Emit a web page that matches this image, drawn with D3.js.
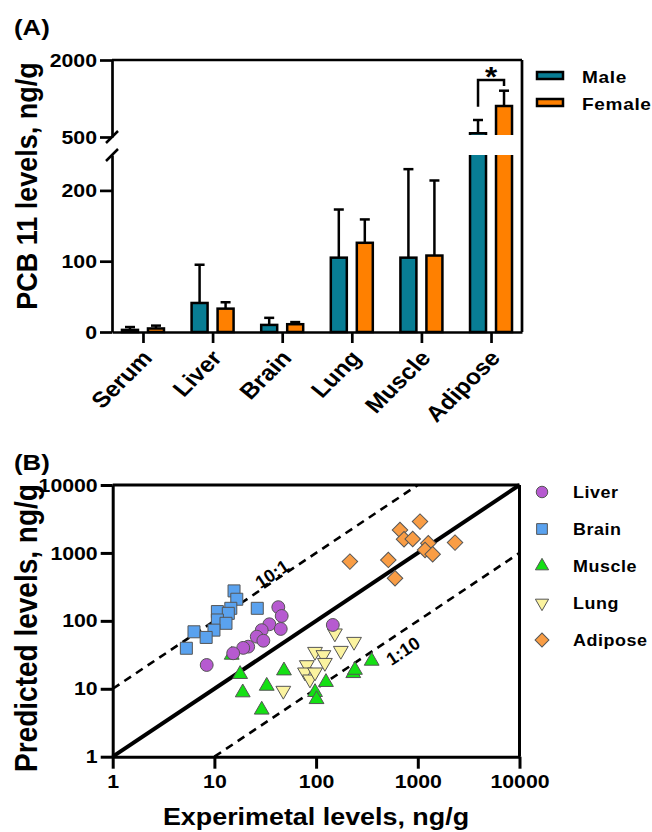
<!DOCTYPE html>
<html>
<head>
<meta charset="utf-8">
<script src="https://cdn.jsdelivr.net/npm/d3@7"></script>
<style>
  body { margin: 0; background: #fff; }
  svg { font-family: "Liberation Sans", Arial, sans-serif; font-weight: bold; }
</style>
</head>
<body>
<div id="chart"></div>
<script>
// ---- panel A data (PCB 11 levels, ng/g) ----
const organs = ["Serum", "Liver", "Brain", "Lung", "Muscle", "Adipose"];
const maleMean = [3, 41, 10, 105, 105, 572];
const maleSD = [4, 54, 10, 68, 125, 259];
const femaleMean = [5, 33, 11, 126, 108, 1104];
const femaleSD = [4, 9, 3, 33, 106, 298];
const lowTicks = [0, 100, 200];
const highTicks = [500, 2000];

// ---- panel B data (experimental vs predicted, ng/g) ----
const liverExp = [42.5, 45.9, 34.7, 44.9, 29.2, 26.1, 30.3, 21.5, 19.2, 15.3, 8.4, 146];
const liverPred = [159, 118, 89, 76, 73, 58.5, 51, 41.7, 40, 33.3, 22.4, 87];
const brainExp = [15.6, 16.6, 14.5, 10.7, 13.7, 10.7, 13.0, 9.9, 6.3, 8.3, 5.3, 26.4];
const brainPred = [276, 208, 153, 137, 129, 103, 92, 73, 69, 57, 39.5, 153];
const muscleExp = [17.9, 19.0, 29.2, 32.7, 48.3, 97.6, 101, 125, 232, 241, 352, 14.8];
const musclePred = [16.4, 8.8, 4.9, 11, 18.5, 8.9, 7.0, 12.5, 16.9, 18.9, 25.7, 31.5];
const lungExp = [47.6, 81, 77.8, 87, 97.6, 97.6, 118, 122, 175, 236, 153];
const lungPred = [9.4, 22.4, 17.5, 13.8, 17.5, 35.2, 31.5, 24.2, 36.4, 49.4, 65.7];
const adiposeExp = [1051, 668, 732, 891, 1268, 1178, 1400, 2323, 513, 597, 215];
const adiposePred = [2890, 2180, 1592, 1600, 1390, 1107, 957, 1419, 789, 424, 745];
const logTicks = [1, 10, 100, 1000, 10000];

const SX = 1.12; // text in the figure is a bit wider than plain Arial bold

const svg = d3.select("#chart").append("svg")
  .attr("width", 652).attr("height", 832);

function addText(parent, x, y, s, size, anchor, rot) {
  return parent.append("text")
    .attr("transform", `translate(${x},${y}) scale(${SX},1)` + (rot ? ` rotate(${rot})` : ""))
    .attr("text-anchor", anchor || "start")
    .attr("font-size", size)
    .text(s);
}

function styleAxis(g, w) {
  g.select(".domain").attr("stroke", "#000").attr("stroke-width", w);
  g.selectAll(".tick line").attr("stroke", "#000").attr("stroke-width", w);
  g.selectAll(".tick text").attr("fill", "#000").attr("font-size", 19)
    .attr("font-family", null).attr("font-weight", "bold");
}

// ================= Panel A =================
const A = svg.append("g");
const left = 112, right = 522, base = 332;
const x = d3.scalePoint().domain(organs).range([left, right]).padding(0.445);
const yLow = d3.scaleLinear().domain([0, 250]).range([base, 155]);
const yHigh = d3.scaleLinear().domain([500, 2000]).range([137, 60]);
const cut = 137, lowTop = 155;
const yv = v => v <= 250 ? yLow(v) : yHigh(v);

addText(A, 14, 35, "(A)", 23);

// frame top and right
A.append("line").attr("x1", left).attr("x2", right).attr("y1", 60).attr("y2", 60)
  .attr("stroke", "#000").attr("stroke-width", 2.7);
A.append("line").attr("x1", right).attr("x2", right).attr("y1", 60).attr("y2", base)
  .attr("stroke", "#000").attr("stroke-width", 2.7);

// y axis in two pieces
const gLow = A.append("g").attr("transform", `translate(${left},0)`)
  .call(d3.axisLeft(yLow).tickValues(lowTicks).tickFormat(d3.format("d")).tickSize(12).tickSizeOuter(0));
styleAxis(gLow, 2.7);
const gHigh = A.append("g").attr("transform", `translate(${left},0)`)
  .call(d3.axisLeft(yHigh).tickValues(highTicks).tickFormat(d3.format("d")).tickSize(12).tickSizeOuter(0));
styleAxis(gHigh, 2.7);
[gLow, gHigh].forEach(g => g.selectAll(".tick text")
  .attr("transform", `scale(${SX},1)`).attr("x", -15 / SX));
// break marks
[cut, lowTop].forEach(yy => {
  A.append("line").attr("x1", left - 6).attr("y1", yy + 6).attr("x2", left + 6).attr("y2", yy - 6)
    .attr("stroke", "#000").attr("stroke-width", 2.5);
});

// x axis
const gx = A.append("g").attr("transform", `translate(0,${base})`)
  .call(d3.axisBottom(x).tickSize(11).tickSizeOuter(0));
styleAxis(gx, 2.7);
gx.selectAll(".tick text")
  .attr("y", null).attr("dy", null)
  .attr("font-size", 22)
  .attr("text-anchor", "end")
  .attr("transform", `translate(10,27) scale(${SX},1) rotate(-48)`);

addText(A, 37, 186, "PCB 11 levels, ng/g", 27, "middle", -90);

// bars
const barW = 16, off = 13;
function drawBars(means, sds, dx, color) {
  means.forEach((m, i) => {
    const cx = x(organs[i]) + dx;
    const x0 = cx - barW / 2;
    if (m <= 250) {
      A.append("rect").attr("x", x0).attr("y", yLow(m)).attr("width", barW)
        .attr("height", base - yLow(m)).attr("fill", color)
        .attr("stroke", "#000").attr("stroke-width", 2.5);
    } else {
      // lower piece (no top edge) and upper piece (no bottom edge)
      A.append("rect").attr("x", x0).attr("y", lowTop).attr("width", barW)
        .attr("height", base - lowTop).attr("fill", color);
      A.append("rect").attr("x", x0).attr("y", yHigh(m)).attr("width", barW)
        .attr("height", cut - 2 - yHigh(m)).attr("fill", color);
      A.append("path")
        .attr("d", `M${x0},${lowTop}V${base}H${x0 + barW}V${lowTop}`)
        .attr("fill", "none").attr("stroke", "#000").attr("stroke-width", 2.5);
      A.append("path")
        .attr("d", `M${x0},${cut - 2}V${yHigh(m)}H${x0 + barW}V${cut - 2}`)
        .attr("fill", "none").attr("stroke", "#000").attr("stroke-width", 2.5);
    }
    const top = yv(m), capY = yv(m + sds[i]);
    A.append("line").attr("x1", cx).attr("x2", cx).attr("y1", top).attr("y2", capY)
      .attr("stroke", "#000").attr("stroke-width", 2.5);
    A.append("line").attr("x1", cx - 5).attr("x2", cx + 5).attr("y1", capY).attr("y2", capY)
      .attr("stroke", "#000").attr("stroke-width", 2.5);
  });
}
drawBars(maleMean, maleSD, -off, "#087d94");
drawBars(femaleMean, femaleSD, off, "#ff8000");

// significance bracket on adipose
const ax = x("Adipose");
A.append("path")
  .attr("d", `M${ax - off},${yHigh(1090)}V80H${ax + off}V86`)
  .attr("fill", "none").attr("stroke", "#000").attr("stroke-width", 2.5);
addText(A, ax, 86, "*", 28, "middle");

// legend A
[["Male", "#087d94", 75.5], ["Female", "#ff8000", 102.5]].forEach(([name, c, yy]) => {
  A.append("rect").attr("x", 537).attr("y", yy - 3.5).attr("width", 26).attr("height", 7)
    .attr("fill", c).attr("stroke", "#000").attr("stroke-width", 2.5);
  addText(A, 582, yy + 7, name, 17).attr("letter-spacing", 0.6);
});

// ================= Panel B =================
const B = svg.append("g");
const xs = d3.scaleLog().domain([1, 10000]).range([112.7, 519.5]);
const ys = d3.scaleLog().domain([1, 10000]).range([756.7, 485]);

addText(B, 14, 470, "(B)", 23);

// reference lines
const lineGen = d3.line().x(d => xs(d[0])).y(d => ys(d[1]));
B.append("path").attr("d", lineGen([[1, 10], [1000, 10000]]))
  .attr("fill", "none").attr("stroke", "#000").attr("stroke-width", 2.6).attr("stroke-dasharray", "8,6");
B.append("path").attr("d", lineGen([[10, 1], [10000, 1000]]))
  .attr("fill", "none").attr("stroke", "#000").attr("stroke-width", 2.6).attr("stroke-dasharray", "8,6");
B.append("path").attr("d", lineGen([[1, 1], [10000, 10000]]))
  .attr("fill", "none").attr("stroke", "#000").attr("stroke-width", 4);

const ang = -Math.atan((ys(1) - ys(10)) / (xs(10) - xs(1))) * 180 / Math.PI;
B.append("text").attr("transform", `translate(272,574) rotate(${ang})`)
  .attr("text-anchor", "middle").attr("dy", "0.35em").attr("font-size", 18).text("10:1");
B.append("text").attr("transform", `translate(403,651) rotate(${ang})`)
  .attr("text-anchor", "middle").attr("dy", "0.35em").attr("font-size", 18).text("1:10");

// frame
B.append("line").attr("x1", xs(1)).attr("x2", xs(10000)).attr("y1", ys(10000)).attr("y2", ys(10000))
  .attr("stroke", "#000").attr("stroke-width", 3);
B.append("line").attr("x1", xs(10000)).attr("x2", xs(10000)).attr("y1", ys(10000)).attr("y2", ys(1))
  .attr("stroke", "#000").attr("stroke-width", 3);

const gy = B.append("g").attr("transform", `translate(${xs(1)},0)`)
  .call(d3.axisLeft(ys).tickValues(logTicks).tickFormat(d3.format("d")).tickSize(12).tickSizeOuter(0));
styleAxis(gy, 3);
gy.selectAll(".tick text").attr("transform", `scale(${SX},1)`).attr("x", -15 / SX);
const gxb = B.append("g").attr("transform", `translate(0,${ys(1)})`)
  .call(d3.axisBottom(xs).tickValues(logTicks).tickFormat(d3.format("d")).tickSize(12).tickSizeOuter(0).tickPadding(6));
styleAxis(gxb, 3);
gxb.selectAll(".tick text").attr("transform", `scale(${SX},1)`);

addText(B, 37, 628, "Predicted levels, ng/g", 28, "middle", -90);
addText(B, 316, 825, "Experimetal levels, ng/g", 24, "middle");

// scatter series
const series = [
  { name: "Liver", exp: liverExp, pred: liverPred, color: "#b65ad0", sym: d3.symbolCircle, size: 130, rot: 0 },
  { name: "Brain", exp: brainExp, pred: brainPred, color: "#5aa2ef", sym: d3.symbolSquare, size: 144, rot: 0 },
  { name: "Muscle", exp: muscleExp, pred: musclePred, color: "#14e014", sym: d3.symbolTriangle, size: 95, rot: 0 },
  { name: "Lung", exp: lungExp, pred: lungPred, color: "#fbf3a0", sym: d3.symbolTriangle, size: 95, rot: 180 },
  { name: "Adipose", exp: adiposeExp, pred: adiposePred, color: "#f99d45", sym: d3.symbolSquare, size: 120, rot: 45 }
];
const drawOrder = ["Adipose", "Lung", "Muscle", "Brain", "Liver"];
drawOrder.forEach(n => {
  const s = series.find(d => d.name === n);
  B.append("g").selectAll("path")
    .data(s.exp.map((e, i) => [e, s.pred[i]]))
    .join("path")
    .attr("d", d3.symbol().type(s.sym).size(s.size))
    .attr("transform", d => `translate(${xs(d[0])},${ys(d[1])}) rotate(${s.rot})`)
    .attr("fill", s.color).attr("stroke", "#555").attr("stroke-width", 1);
});

// legend B
series.forEach((s, i) => {
  const yy = 492 + i * 37;
  B.append("path").attr("d", d3.symbol().type(s.sym).size(s.size * 0.8))
    .attr("transform", `translate(542,${yy}) rotate(${s.rot})`)
    .attr("fill", s.color).attr("stroke", "#555").attr("stroke-width", 1);
  addText(B, 573, yy + 6, s.name, 16).attr("letter-spacing", 0.5);
});
</script>
</body>
</html>
